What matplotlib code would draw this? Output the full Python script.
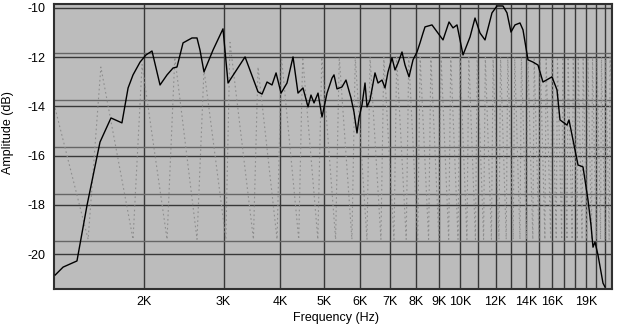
import matplotlib
matplotlib.use("Agg")
import matplotlib.pyplot as plt

# Main amplitude response (Hz, dB)
freq_hz = [1272, 1324, 1421, 1496, 1598, 1690, 1787, 1844, 1891, 1960, 2020, 2083,
           2170, 2249, 2319, 2366, 2440, 2554, 2620, 2660, 2715, 2843, 2991, 3069,
           3347, 3576, 3650, 3744, 3840, 3920, 4021, 4145, 4274, 4384, 4497, 4614,
           4684, 4757, 4855, 4955, 5083, 5214, 5267, 5348, 5486, 5599, 5744, 5832,
           5922, 5983, 6075, 6169, 6232, 6328, 6491, 6592, 6727, 6831, 6936, 7079,
           7188, 7299, 7449, 7564, 7720, 7879, 8041, 8165, 8291, 8376, 8679, 9180,
           9466, 9661, 9860, 10166, 10536, 10807, 11086, 11372, 11784, 12088, 12463,
           12720, 12982, 13250, 13591, 13801, 14157, 14522, 14896, 15280, 16000,
           16413, 16666, 17271, 17448, 18268, 18739, 19222, 19518, 19718, 19920,
           20227, 20749, 20962]
amp_db = [-20.85, -20.53, -20.28, -18.01, -15.45, -14.47, -14.67, -13.25, -12.72, -12.20,
          -11.91, -11.75, -13.13, -12.72, -12.44, -12.40, -11.42, -11.22, -11.22, -11.71,
          -12.60, -11.71, -10.85, -13.05, -11.99, -13.41, -13.50, -13.01, -13.13, -12.64,
          -13.46, -13.05, -11.99, -13.46, -13.25, -14.02, -13.54, -13.86, -13.46, -14.43,
          -13.46, -12.85, -12.72, -13.29, -13.21, -12.93, -13.66, -14.23, -15.08, -14.47,
          -13.94, -13.05, -14.02, -13.74, -12.64, -13.05, -12.93, -13.25, -12.60, -12.03,
          -12.52, -12.24, -11.79, -12.32, -12.80, -12.11, -11.79, -11.42, -11.02, -10.77,
          -10.69, -11.30, -10.57, -10.81, -10.69, -11.91, -11.18, -10.41, -11.02, -11.30,
          -10.20, -9.92, -9.92, -10.20, -10.98, -10.69, -10.61, -10.89, -12.11, -12.20,
          -12.32, -13.01, -12.80, -13.33, -14.55, -14.76, -14.55, -16.38, -16.46, -17.80,
          -18.82, -19.72, -19.51, -20.04, -21.18, -21.34]

# Faint dotted (wrapped phase-like) trace, drawn on the same scale
phase_freq = [1264, 1504, 1605, 1891, 1980, 2249, 2340, 2620, 2715, 3035, 3100, 3493, 3576,
              3940, 4030, 4400, 4490, 4850, 4950, 5310, 5410, 5770, 5870, 6230, 6330,
              6690, 6790, 7150, 7250, 7610, 7710, 8070, 8170, 8530, 8630, 8990, 9090,
              9450, 9550, 9910, 10010, 10370, 10470, 10830, 10930, 11290, 11390, 11750,
              11850, 12210, 12310, 12670, 12770, 13130, 13230, 13590, 13690, 14050, 14150,
              14510, 14610, 14970, 15070, 15430, 15530, 15890, 15990, 16350, 16450, 16810,
              16910, 17270, 17370, 17730, 17830, 18190, 18290, 18650, 18750, 19110, 19210,
              19570, 19670, 20030, 20130, 20490, 20590, 20950, 21050, 21410, 21510, 21724]
phase_db = [-13.9, -19.4, -12.4, -19.4, -12.3, -19.4, -12.0, -19.4, -12.5, -19.4, -11.4, -19.4, -12.4,
            -19.4, -12.0, -19.4, -12.0, -19.4, -12.0, -19.4, -12.0, -19.4, -12.0, -19.4, -12.0,
            -19.4, -12.0, -19.4, -12.0, -19.4, -12.0, -19.4, -12.0, -19.4, -12.0, -19.4, -12.0,
            -19.4, -12.0, -19.4, -12.0, -19.4, -12.0, -19.4, -12.0, -19.4, -12.0, -19.4,
            -12.0, -19.4, -12.0, -19.4, -12.0, -19.4, -12.0, -19.4, -12.0, -19.4, -12.0,
            -19.4, -12.0, -19.4, -12.0, -19.4, -12.0, -19.4, -12.0, -19.4, -12.0, -19.4,
            -12.0, -19.4, -12.0, -19.4, -12.0, -19.4, -12.0, -19.4, -12.0, -19.4, -12.0,
            -19.4, -12.0, -19.4, -12.0, -19.4, -12.0, -19.4, -12.0, -19.4, -12.0, -13.5]

grid_freqs = [2000, 3000, 4000, 5000, 6000, 7000, 8000, 9000, 10000, 11000, 12000, 13000,
              14000, 15000, 16000, 17000, 18000, 19000, 20000, 21000]
grid_labels = ['2K', '3K', '4K', '5K', '6K', '7K', '8K', '9K', '10K', '', '12K', '',
               '14K', '', '16K', '', '', '19K', '', '']
y_ticks = [-10, -12, -14, -16, -18, -20]
y_minor_lines = [-11.83, -13.74, -15.65, -17.56, -19.47]

W, H = 617, 333
fig = plt.figure(figsize=(W / 100, H / 100), dpi=100)
fig.patch.set_facecolor('white')
L, R, T, B = 54, 612, 4, 289
ax = fig.add_axes([L / W, (H - B) / H, (R - L) / W, (B - T) / H])
ax.set_facecolor('#bcbcbc')
ax.set_xscale('log')
ax.set_xlim(1264, 21724)
ax.set_ylim(-21.42, -9.84)

for yv in y_minor_lines:
    ax.axhline(yv, color='#666666', lw=1.0, zorder=1)

ax.set_xticks(grid_freqs)
ax.set_xticklabels(grid_labels)
ax.xaxis.set_minor_locator(matplotlib.ticker.NullLocator())
ax.set_yticks(y_ticks)
ax.set_yticklabels([str(v) for v in y_ticks])
ax.grid(True, which='major', color='#383838', lw=1.0, zorder=1)
ax.set_axisbelow(True)
ax.tick_params(length=0, labelsize=9, colors='black')
ax.tick_params(axis='x', pad=5)
ax.tick_params(axis='y', pad=6)
for lab in ax.get_xticklabels() + ax.get_yticklabels():
    lab.set_fontfamily('Liberation Sans')

ax.plot(phase_freq, phase_db, color='#8e8e8e', lw=0.8, ls=(0, (1.5, 2.5)), zorder=2)
ax.plot(freq_hz, amp_db, color='black', lw=1.0, zorder=3, clip_on=True)

for s in ax.spines.values():
    s.set_color('#303030')
    s.set_linewidth(1.5)

fig.text(336 / W, 1 - 318 / H, 'Frequency (Hz)', ha='center', va='center',
         fontsize=9, family='Liberation Sans')
fig.text(8 / W, 1 - 133 / H, 'Amplitude (dB)', ha='center', va='center',
         rotation=90, fontsize=9, family='Liberation Sans')

fig.savefig('out.png', dpi=100, facecolor='white')
